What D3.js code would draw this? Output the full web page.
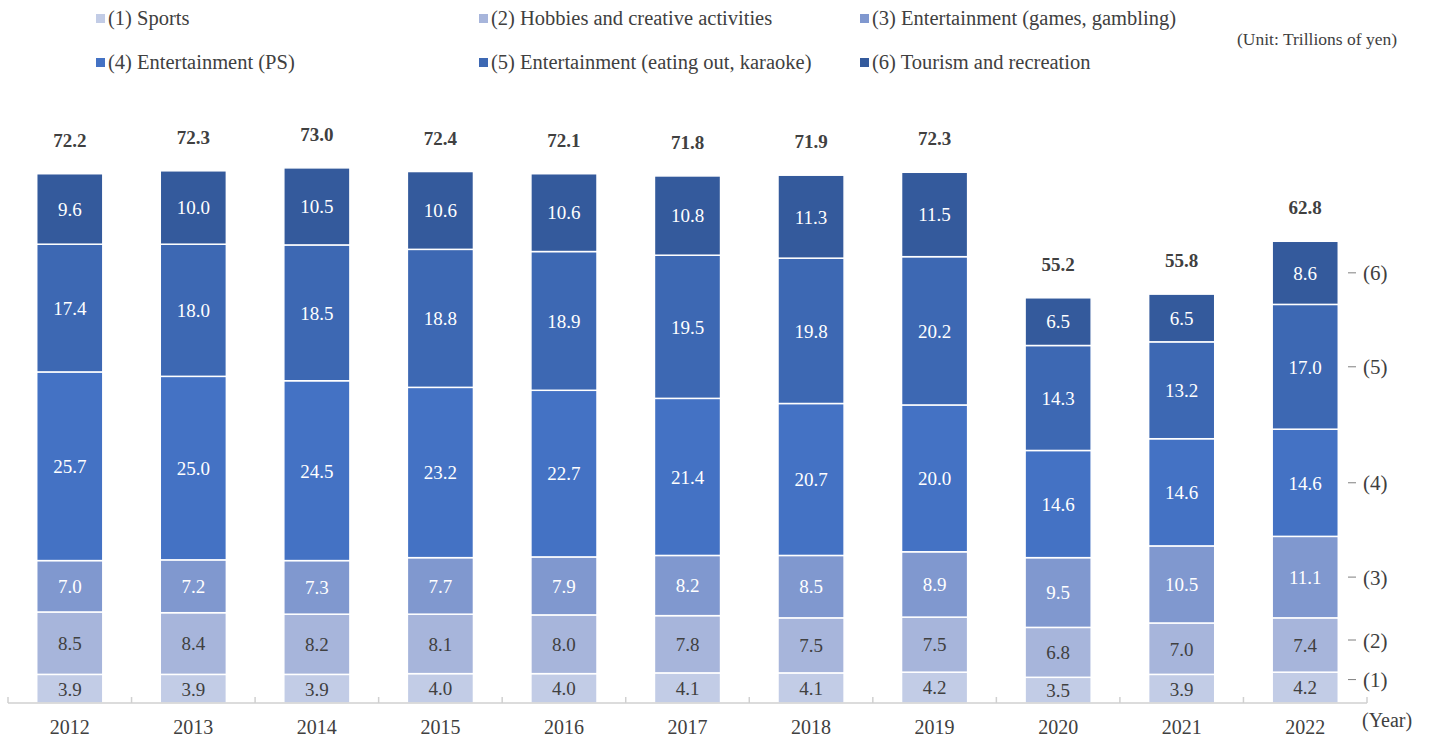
<!DOCTYPE html>
<html><head><meta charset="utf-8">
<script src="https://cdn.jsdelivr.net/npm/d3@7"></script>
<style>body{margin:0;background:#fff;}svg{display:block;font-family:"Liberation Serif","Times New Roman",serif;}</style>
</head><body><svg id="c" width="1434" height="738"></svg>
<script>
const years = ["2012","2013","2014","2015","2016","2017","2018","2019","2020","2021","2022"];
const seriesNames = ["(1) Sports","(2) Hobbies and creative activities","(3) Entertainment (games, gambling)","(4) Entertainment (PS)","(5) Entertainment (eating out, karaoke)","(6) Tourism and recreation"];
const shortNames = ["(1)","(2)","(3)","(4)","(5)","(6)"];
const sports =   [3.9,3.9,3.9,4.0,4.0,4.1,4.1,4.2,3.5,3.9,4.2];
const hobbies =  [8.5,8.4,8.2,8.1,8.0,7.8,7.5,7.5,6.8,7.0,7.4];
const games =    [7.0,7.2,7.3,7.7,7.9,8.2,8.5,8.9,9.5,10.5,11.1];
const ps =       [25.7,25.0,24.5,23.2,22.7,21.4,20.7,20.0,14.6,14.6,14.6];
const eating =   [17.4,18.0,18.5,18.8,18.9,19.5,19.8,20.2,14.3,13.2,17.0];
const tourism =  [9.6,10.0,10.5,10.6,10.6,10.8,11.3,11.5,6.5,6.5,8.6];
const totals =   [72.2,72.3,73.0,72.4,72.1,71.8,71.9,72.3,55.2,55.8,62.8];
const colors = ["#c2cce6","#a7b5db","#8098cf","#4472c4","#3d68b3","#345a9c"];
const labelColors = ["#404040","#404040","#fff","#fff","#fff","#fff"];

const seriesVals = [sports,hobbies,games,ps,eating,tourism];
const keys = ["s0","s1","s2","s3","s4","s5"];
const table = years.map((y,i)=>{const o={year:y}; keys.forEach((k,j)=>o[k]=seriesVals[j][i]); return o;});
const stacked = d3.stack().keys(keys)(table);

const svg = d3.select("#c");
const x = d3.scaleBand().domain(years).range([8,1367]).paddingInner(0.465).paddingOuter(0.2325);
const y = d3.scaleLinear().domain([0,72.2]).range([703,173]);

// bars
stacked.forEach((layer,j)=>{
  const g = svg.append("g");
  g.selectAll("rect").data(layer).join("rect")
    .attr("x",d=>x(d.data.year)).attr("width",x.bandwidth())
    .attr("y",d=>y(d[1])).attr("height",d=>y(d[0])-y(d[1]))
    .attr("fill",colors[j]).attr("stroke","#fff").attr("stroke-width",1.5);
  g.selectAll("text").data(layer).join("text")
    .attr("x",d=>x(d.data.year)+x.bandwidth()/2)
    .attr("y",d=>(y(d[0])+y(d[1]))/2)
    .attr("dy","0.36em").attr("text-anchor","middle")
    .attr("font-size",19).attr("fill",labelColors[j])
    .text(d=>d3.format(".1f")(d[1]-d[0]));
});

// totals
svg.append("g").selectAll("text").data(years).join("text")
  .attr("x",d=>x(d)+x.bandwidth()/2)
  .attr("y",(d,i)=>y(d3.sum(seriesVals,s=>s[i]))-27)
  .attr("text-anchor","middle").attr("font-size",19).attr("font-weight","bold").attr("fill","#404040")
  .text((d,i)=>d3.format(".1f")(totals[i]));

// x axis
const ax = svg.append("g");
ax.append("line").attr("x1",8).attr("x2",1367).attr("y1",703).attr("y2",703).attr("stroke","#d0d0d0").attr("stroke-width",1.5);
const bounds = years.map(d=>x(d)-x.step()*x.paddingInner()/2).concat([1367]);
bounds[0]=8;
ax.selectAll("line.t").data(bounds).join("line").attr("class","t")
  .attr("x1",d=>d).attr("x2",d=>d).attr("y1",697).attr("y2",703).attr("stroke","#d0d0d0").attr("stroke-width",1.5);
ax.selectAll("text").data(years).join("text")
  .attr("x",d=>x(d)+x.bandwidth()/2).attr("y",734)
  .attr("text-anchor","middle").attr("font-size",20).attr("fill","#404040").text(d=>d);
svg.append("text").attr("x",1362).attr("y",727).attr("font-size",20).attr("fill","#404040").text("(Year)");

// right labels
const last = years.length-1;
const nudge = [-8,-5,0,0,0,0];
stacked.forEach((layer,j)=>{
  const d = layer[last];
  const ym = (y(d[0])+y(d[1]))/2 + nudge[j];
  svg.append("line").attr("x1",1348).attr("x2",1356).attr("y1",ym).attr("y2",ym).attr("stroke","#7f7f7f").attr("stroke-width",1);
  svg.append("text").attr("x",1363).attr("y",ym).attr("dy","0.36em").attr("font-size",21).attr("fill","#404040").text(shortNames[j]);
});

// legend
const legX = [96,479,860], legY = [18,62];
seriesNames.forEach((n,j)=>{
  const lx = legX[j%3], ly = legY[Math.floor(j/3)];
  svg.append("rect").attr("x",lx).attr("y",ly-4).attr("width",9).attr("height",9).attr("fill",colors[j]);
  svg.append("text").attr("x",lx+12).attr("y",ly).attr("dy","0.36em").attr("font-size",20.5).attr("fill","#404040").text(n);
});
svg.append("text").attr("x",1397).attr("y",39).attr("dy","0.36em").attr("text-anchor","end").attr("font-size",17.5).attr("fill","#404040").text("(Unit: Trillions of yen)");
</script></body></html>
